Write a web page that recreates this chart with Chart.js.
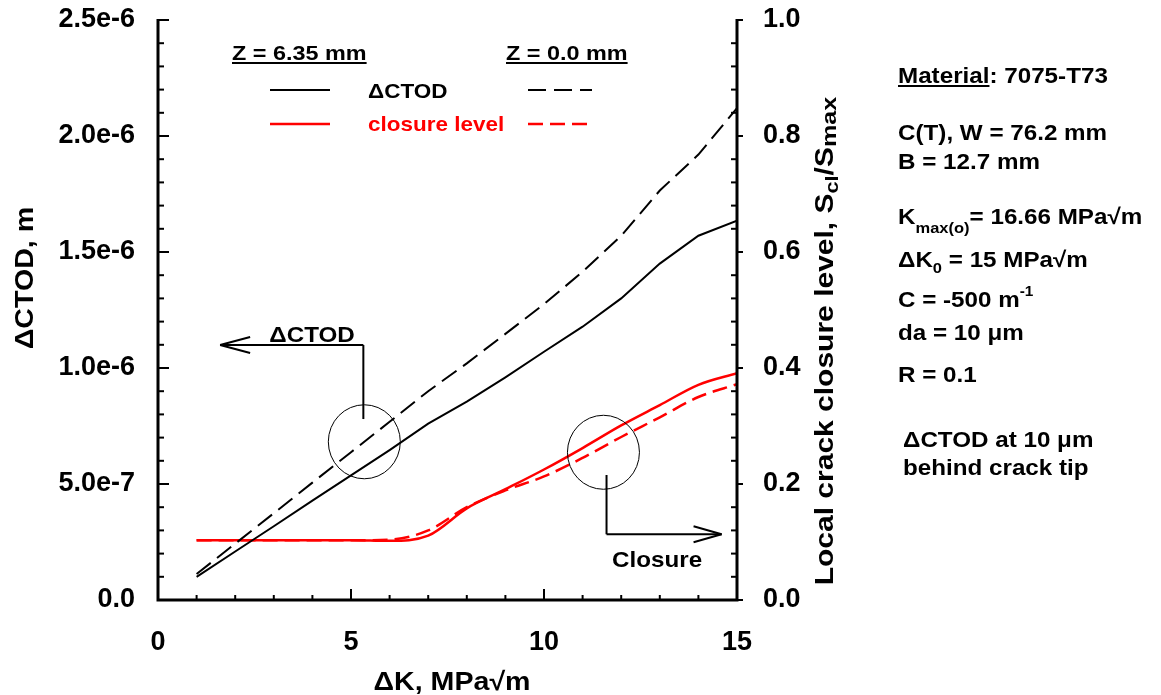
<!DOCTYPE html>
<html>
<head>
<meta charset="utf-8">
<script src="https://cdn.jsdelivr.net/npm/chart.js@4.4.0/dist/chart.umd.min.js"></script>
<style>
  html, body { margin: 0; padding: 0; background: #fff; }
</style>
</head>
<body>
<canvas id="chart" width="1161" height="695"></canvas>
<script>
// --- data ---
const dK = [1, 2, 3, 4, 5, 6, 7, 8, 9, 10, 11, 12, 13, 14, 15];
// ΔCTOD (m)
const ctodZ635 = [1.00e-7, 2.09e-7, 3.18e-7, 4.28e-7, 5.37e-7, 6.46e-7, 7.60e-7, 8.55e-7, 9.60e-7, 1.070e-6, 1.178e-6, 1.300e-6, 1.450e-6, 1.570e-6, 1.635e-6];
const ctodZ0 = [1.12e-7, 2.43e-7, 3.74e-7, 5.06e-7, 6.37e-7, 7.68e-7, 9.00e-7, 1.020e-6, 1.147e-6, 1.275e-6, 1.415e-6, 1.570e-6, 1.765e-6, 1.920e-6, 2.120e-6];
// local closure level Scl/Smax
const closureZ635 = [0.103, 0.103, 0.103, 0.103, 0.103, 0.102, 0.111, 0.158, 0.191, 0.225, 0.262, 0.301, 0.336, 0.371, 0.391];
const closureZ0 = [0.103, 0.103, 0.103, 0.103, 0.103, 0.104, 0.120, 0.160, 0.189, 0.213, 0.245, 0.281, 0.315, 0.350, 0.372];

const xTickLabels = ['0', '5', '10', '15'];
const ctodTickLabels = ['0.0', '5.0e-7', '1.0e-6', '1.5e-6', '2.0e-6', '2.5e-6'];
const closureTickLabels = ['0.0', '0.2', '0.4', '0.6', '0.8', '1.0'];

const FONT = '"Liberation Sans", Arial, Helvetica, sans-serif';
const SX = 1.1; // the original lettering is a bit wider than Arial
const RED = '#ff0000';
const DASH_BLACK = [18, 8];
const DASH_RED = [15, 7];

const pts = ys => dK.map((x, i) => ({ x: x, y: ys[i] }));

// draws a run of text pieces (sub/superscripts, underline) from a baseline
function rich(ctx, x, y, parts, align, sx) {
    sx = sx || SX;
    let w = 0;
    parts.forEach(p => {
        ctx.font = 'bold ' + p.size + 'px ' + FONT;
        p.w = ctx.measureText(p.t).width * sx;
        w += p.w;
    });
    let cx = align === 'center' ? x - w / 2 : x;
    parts.forEach(p => {
        ctx.save();
        ctx.font = 'bold ' + p.size + 'px ' + FONT;
        ctx.fillStyle = p.color || '#000';
        ctx.textBaseline = 'alphabetic';
        ctx.textAlign = 'left';
        ctx.translate(cx, y + (p.dy || 0));
        ctx.scale(sx, 1);
        ctx.fillText(p.t, 0, 0);
        ctx.restore();
        if (p.u) {
            ctx.save();
            ctx.strokeStyle = p.color || '#000';
            ctx.lineWidth = 2;
            ctx.beginPath();
            ctx.moveTo(cx, y + 3);
            ctx.lineTo(cx + p.w, y + 3);
            ctx.stroke();
            ctx.restore();
        }
        cx += p.w;
    });
    return w;
}

const T = (t, size, extra) => Object.assign({ t: t, size: size }, extra || {});

const decor = {
    id: 'decor',
    afterDraw(chart) {
        const ctx = chart.ctx, a = chart.chartArea;
        const X = v => chart.scales.x.getPixelForValue(v);
        const Y = v => chart.scales.y.getPixelForValue(v);
        const Y2 = v => chart.scales.y2.getPixelForValue(v);
        const line = (x1, y1, x2, y2) => { ctx.beginPath(); ctx.moveTo(x1, y1); ctx.lineTo(x2, y2); ctx.stroke(); };

        ctx.save();
        ctx.strokeStyle = '#000';
        ctx.fillStyle = '#000';

        // axes frame (no top line)
        ctx.lineWidth = 3;
        ctx.lineJoin = 'miter';
        ctx.beginPath();
        ctx.moveTo(a.left, a.top - 1);
        ctx.lineTo(a.left, a.bottom);
        ctx.lineTo(a.right, a.bottom);
        ctx.lineTo(a.right, a.top - 1);
        ctx.stroke();

        // tick marks
        ctx.lineWidth = 2;
        for (let i = 0; i <= 25; i++) {
            const y = Y(i * 1e-7);
            line(a.left, y, a.left + (i % 5 ? 6 : 11), y);
        }
        for (let i = 0; i <= 25; i++) {
            const y = Y2(i * 0.04);
            if (i % 5) line(a.right - 6, y, a.right, y);
            else line(a.right, y, a.right + 6, y);
        }
        for (let i = 0; i <= 15; i++) {
            const x = X(i);
            line(x, a.bottom, x, a.bottom - (i % 5 ? 5 : 11));
        }

        // axis titles
        ctx.save();
        ctx.translate(33, 278);
        ctx.rotate(-Math.PI / 2);
        rich(ctx, 0, 0, [T('\u0394CTOD, m', 26)], 'center');
        ctx.restore();

        rich(ctx, 452, 690, [T('\u0394K, MPa\u221Am', 26)], 'center');

        ctx.save();
        ctx.translate(833, 341);
        ctx.rotate(-Math.PI / 2);
        rich(ctx, 0, 0, [
            T('Local crack closure level, S', 25),
            T('cl', 18, { dy: 5 }),
            T('/S', 25),
            T('max', 21, { dy: 3 })
        ], 'center', 1.2);
        ctx.restore();

        // legend
        rich(ctx, 232, 60, [T('Z = 6.35 mm', 20, { u: true })], 'left', 1.17);
        rich(ctx, 506, 60, [T('Z = 0.0 mm', 20, { u: true })], 'left', 1.17);
        rich(ctx, 368, 98, [T('\u0394CTOD', 21)], 'left', 1.07);
        rich(ctx, 368, 131, [T('closure level', 21, { color: RED })], 'left', 1.07);
        ctx.lineWidth = 2;
        ctx.strokeStyle = '#000';
        line(270, 90, 330, 90);
        ctx.setLineDash(DASH_BLACK);
        line(528, 90, 592, 90);
        ctx.strokeStyle = RED;
        ctx.lineWidth = 2.5;
        ctx.setLineDash([]);
        line(270, 124, 330, 124);
        ctx.setLineDash(DASH_RED);
        line(528, 124, 592, 124);
        ctx.setLineDash([]);

        // ΔCTOD annotation (points to the left axis)
        ctx.strokeStyle = '#000';
        rich(ctx, X(3.99), Y(1.151e-6) + 9, [T('\u0394CTOD', 22)], 'center', 1.1);
        ctx.lineWidth = 2;
        const ay = Y(1.099e-6), ax1 = X(5.32), ax0 = X(1.61);
        line(ax1, Y(0.780e-6), ax1, ay);
        line(ax1, ay, ax0, ay);
        line(ax0, ay, ax0 + 30, ay - 8);
        line(ax0, ay, ax0 + 30, ay + 8);
        ctx.lineWidth = 1;
        ctx.beginPath();
        ctx.ellipse(X(5.345), Y(0.682e-6), 36, 37, 0, 0, Math.PI * 2);
        ctx.stroke();

        // Closure annotation (points to the right axis)
        ctx.lineWidth = 2;
        const by = Y2(0.1133), bx0 = X(11.62), bx1 = X(14.6);
        line(bx0, Y2(0.2155), bx0, by);
        line(bx0, by, bx1, by);
        line(bx1, by, bx1 - 28, by - 8);
        line(bx1, by, bx1 - 28, by + 8);
        ctx.lineWidth = 1;
        ctx.beginPath();
        ctx.ellipse(X(11.54), Y2(0.2547), 36, 37, 0, 0, Math.PI * 2);
        ctx.stroke();
        rich(ctx, X(12.93), Y2(0.0724) + 9, [T('Closure', 22)], 'center', 1.1);

        // parameter block
        const px = 898;
        rich(ctx, px, 83, [T('Material', 22, { u: true }), T(': 7075-T73', 22)]);
        rich(ctx, px, 140, [T('C(T), W = 76.2 mm', 22)]);
        rich(ctx, px, 169, [T('B = 12.7 mm', 22)]);
        rich(ctx, px, 224, [T('K', 22), T('max(o)', 15, { dy: 9 }), T('= 16.66 MPa\u221Am', 22)]);
        rich(ctx, px, 267, [T('\u0394K', 22), T('0', 15, { dy: 6 }), T(' = 15 MPa\u221Am', 22)]);
        rich(ctx, px, 307, [T('C = -500 m', 22), T('-1', 14, { dy: -11 })]);
        rich(ctx, px, 340, [T('da = 10 \u03BCm', 22)]);
        rich(ctx, px, 382, [T('R = 0.1', 22)]);
        rich(ctx, 903, 447, [T('\u0394CTOD at 10 \u03BCm', 22)]);
        rich(ctx, 903, 475, [T('behind crack tip', 22)]);

        ctx.restore();
    }
};

const tickFont = { family: FONT, size: 27, weight: 'bold' };
// keep the plot box where the original has it: no extra room for overhanging labels
const fixV = w => s => { s.width = w; s.paddingTop = 0; s.paddingBottom = 0; };
const fixH = h => s => { s.height = h; s.paddingLeft = 0; s.paddingRight = 0; };

new Chart(document.getElementById('chart'), {
    type: 'line',
    data: {
        datasets: [
            { label: '\u0394CTOD, Z = 6.35 mm', data: pts(ctodZ635), yAxisID: 'y',
              borderColor: '#000', borderWidth: 2, pointRadius: 0, tension: 0, fill: false },
            { label: '\u0394CTOD, Z = 0.0 mm', data: pts(ctodZ0), yAxisID: 'y',
              borderColor: '#000', borderWidth: 2, borderDash: DASH_BLACK, pointRadius: 0, tension: 0, fill: false },
            { label: 'closure level, Z = 6.35 mm', data: pts(closureZ635), yAxisID: 'y2',
              borderColor: RED, borderWidth: 2.5, pointRadius: 0, cubicInterpolationMode: 'monotone', fill: false },
            { label: 'closure level, Z = 0.0 mm', data: pts(closureZ0), yAxisID: 'y2',
              borderColor: RED, borderWidth: 2.5, borderDash: DASH_RED, pointRadius: 0, cubicInterpolationMode: 'monotone', fill: false }
        ]
    },
    options: {
        responsive: false,
        animation: false,
        devicePixelRatio: 1,
        layout: { padding: { top: 20, right: 0, bottom: 0, left: 0 } },
        plugins: { legend: { display: false }, tooltip: { enabled: false } },
        scales: {
            x: {
                type: 'linear', min: 0, max: 15,
                grid: { display: false }, border: { display: false },
                ticks: { stepSize: 5, padding: 18, color: '#000', font: tickFont, maxRotation: 0,
                         callback: (v, i) => xTickLabels[i] },
                afterFit: fixH(95)
            },
            y: {
                position: 'left', min: 0, max: 2.5e-6,
                grid: { display: false }, border: { display: false },
                ticks: { stepSize: 5e-7, padding: 15, color: '#000', font: tickFont,
                         callback: (v, i) => ctodTickLabels[i] },
                afterFit: fixV(158)
            },
            y2: {
                position: 'right', min: 0, max: 1,
                grid: { display: false }, border: { display: false },
                ticks: { stepSize: 0.2, padding: 18, color: '#000', font: tickFont,
                         callback: (v, i) => closureTickLabels[i] },
                afterFit: fixV(424)
            }
        }
    },
    plugins: [decor]
});
</script>
</body>
</html>
